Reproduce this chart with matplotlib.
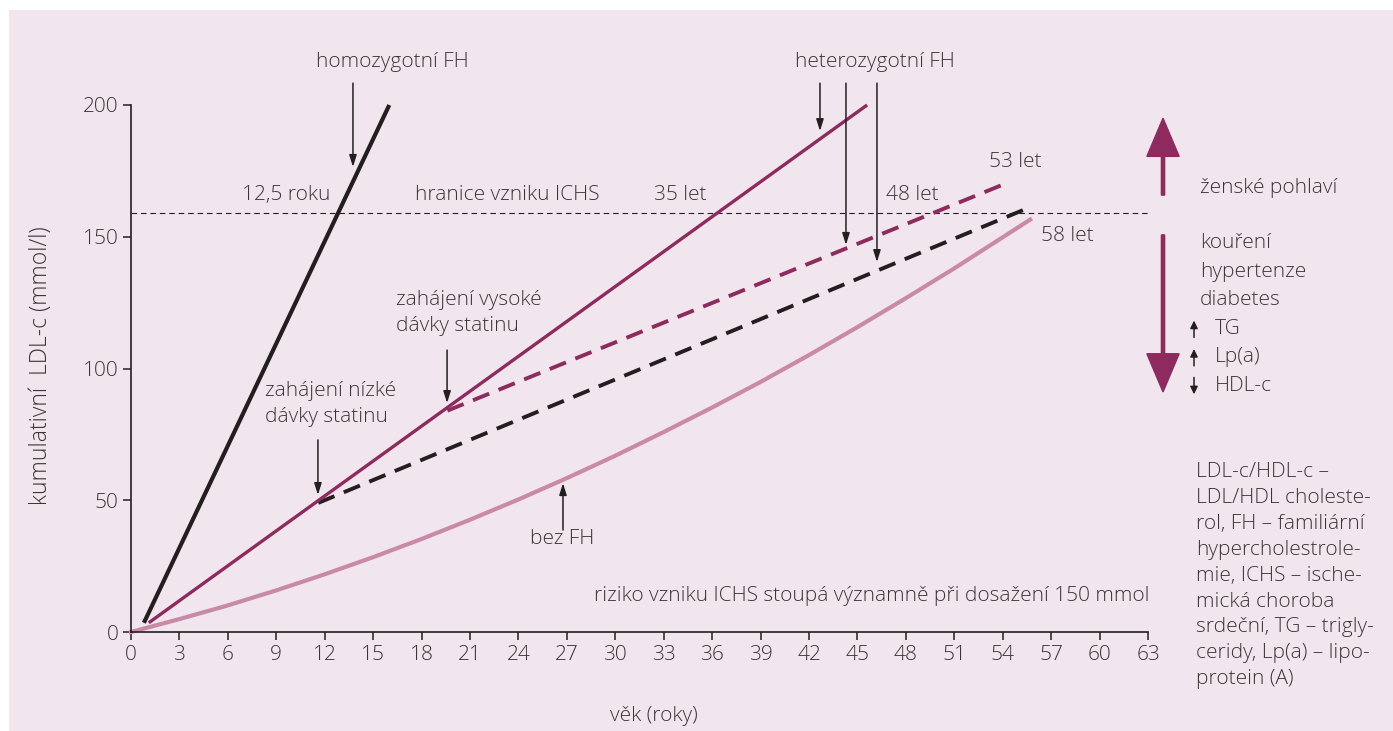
import matplotlib

matplotlib.use("Agg")
import matplotlib.pyplot as plt
from matplotlib.patches import Rectangle, FancyArrow

plt.rcParams["font.family"] = ["Open Sans", "DejaVu Sans"]
plt.rcParams["font.weight"] = "light"
plt.rcParams["axes.labelweight"] = "light"

TEXT = "#3b3536"
DARK = "#231f20"
MAGENTA = "#8e2a5e"
PINK = "#c98aa8"
PANEL = "#f2e6ee"

# homozygous FH (no statin)
homo_age = [0.8, 16.0]
homo_ldl = [3.5, 200.0]

# heterozygous FH (no statin)
hetero_age = [1.1, 45.6]
hetero_ldl = [3.5, 200.0]

# heterozygous FH, low dose statin from ~11.5 years
low_age = [11.6, 55.8]
low_ldl = [49.0, 161.5]

# heterozygous FH, high dose statin from ~19.5 years
high_age = [19.6, 54.3]
high_ldl = [84.0, 170.5]

# without FH
nofh_age = [0, 3, 6, 9, 12, 15, 18, 21, 24, 27, 30, 33, 36, 39, 42, 45, 48, 51, 54, 55.7]
nofh_ldl = [0, 4.9, 10.1, 15.8, 21.9, 28.4, 35.3, 42.6, 50.3, 58.4, 66.9, 75.9, 85.2,
            94.9, 105.1, 115.7, 126.7, 138.0, 149.8, 156.5]

threshold = 159
x_ticks = list(range(0, 64, 3))
y_ticks = [0, 50, 100, 150, 200]

risk_up = ["ženské pohlaví"]
risk_down = ["kouření", "hypertenze", "diabetes"]
risk_small = [("TG", "up"), ("Lp(a)", "up"), ("HDL-c", "down")]

footnote = [
    "LDL-c/HDL-c –",
    "LDL/HDL choleste-",
    "rol, FH – familiární",
    "hypercholestrole-",
    "mie, ICHS – ische-",
    "mická choroba",
    "srdeční, TG – trigly-",
    "ceridy, Lp(a) – lipo-",
    "protein (A)",
]

W, H = 1393, 731
fig = plt.figure(figsize=(W / 100, H / 100), dpi=100)
fig.patch.set_facecolor("white")
fig.patches.append(Rectangle((9 / W, 0), 1, (H - 10) / H, transform=fig.transFigure,
                             facecolor=PANEL, edgecolor="none", zorder=-10))

ax = fig.add_axes([131 / W, (H - 632) / H, (1148 - 131) / W, (632 - 105) / H])
ax.set_facecolor("none")
ax.set_xlim(0, 63)
ax.set_ylim(0, 200)
for side in ("top", "right"):
    ax.spines[side].set_visible(False)
for side in ("left", "bottom"):
    ax.spines[side].set_color(DARK)
    ax.spines[side].set_linewidth(1.2)
ax.spines["left"].set_bounds(0, 200)
ax.spines["bottom"].set_bounds(0, 63)
ax.set_xticks(x_ticks)
ax.set_yticks(y_ticks)
ax.tick_params(direction="out", length=6, width=1.1, color=DARK, labelcolor=TEXT,
               labelsize=15, pad=3)

ax.set_xlabel("věk (roky)", fontsize=15, color=TEXT, fontweight="light")
ax.xaxis.set_label_coords(0.514, -0.14)
ax.set_ylabel("kumulativní  LDL-c (mmol/l)", fontsize=16.5, color=TEXT, fontweight="light")
ax.yaxis.set_label_coords(-0.077, 0.505)

# threshold
ax.plot([0, 63], [threshold, threshold], color=DARK, lw=0.8, dashes=(5, 3.5), clip_on=False)

# lines
ax.plot(nofh_age, nofh_ldl, color=PINK, lw=3, solid_joinstyle="round", clip_on=False)
ax.plot(low_age, low_ldl, color=DARK, lw=2.8, dashes=(4.5, 2.6), clip_on=False)
ax.plot(high_age, high_ldl, color=MAGENTA, lw=2.8, dashes=(4.5, 2.6), clip_on=False)
ax.plot(hetero_age, hetero_ldl, color=MAGENTA, lw=2.4, solid_capstyle="butt", clip_on=False)
ax.plot(homo_age, homo_ldl, color=DARK, lw=3, solid_capstyle="butt", clip_on=False)

fs = 15


def note(x, y, s, ha="center", va="center", **kw):
    ax.text(x, y, s, ha=ha, va=va, fontsize=fs, color=TEXT, clip_on=False, **kw)


def pointer(x, y0, y1, head=0.7):
    ax.annotate("", xy=(x, y1), xytext=(x, y0), annotation_clip=False,
                arrowprops=dict(arrowstyle=f"-|>,head_length={head},head_width=0.22",
                                color=DARK, lw=1.1, shrinkA=0, shrinkB=0))


note(16.17, 216.3, "homozygotní FH")
pointer(13.75, 208.3, 176.5)
note(46.09, 216.3, "heterozygotní FH")
pointer(42.68, 208.3, 190.1)
pointer(44.29, 208.3, 146.9)
pointer(46.21, 208.3, 140.4)

note(9.6, 166.0, "12,5 roku")
note(23.3, 166.0, "hranice vzniku ICHS")
note(34.0, 166.0, "35 let")
note(48.4, 166.0, "48 let")
note(54.8, 178.4, "53 let")
note(58.0, 150.3, "58 let")

note(16.4, 121.1, "zahájení vysoké\ndávky statinu", ha="left", linespacing=1.45)
pointer(19.58, 107.0, 86.9)
note(8.3, 86.5, "zahájení nízké\ndávky statinu", ha="left", linespacing=1.45)
pointer(11.58, 72.9, 52.0)

note(26.7, 35.3, "bez FH")
pointer(26.76, 38.7, 56.5)

note(63.1, 13.7, "riziko vzniku ICHS stoupá významně při dosažení 150 mmol", ha="right")

# risk factor arrows on the right
big_x = 63.93
ax.add_patch(FancyArrow(big_x, 165.8, 0, 29.2, width=0.2, head_width=2.0, head_length=14.5,
                        length_includes_head=True, color=MAGENTA, clip_on=False))
ax.add_patch(FancyArrow(big_x, 150.7, 0, -59.6, width=0.2, head_width=2.0, head_length=14.5,
                        length_includes_head=True, color=MAGENTA, clip_on=False))

note(66.2, 168.5, risk_up[0], ha="left")
for i, label in enumerate(risk_down):
    note(66.2, 147.6 - i * 10.8, label, ha="left")
for i, (label, direction) in enumerate(risk_small):
    y = 115.0 - i * 10.8
    note(67.15, y, label, ha="left")
    if direction == "up":
        pointer(65.85, y - 3.2, y + 3.2, head=0.45)
    else:
        pointer(65.85, y + 3.2, y - 3.2, head=0.45)

note(65.97, 62.2 + 2.2, "\n".join(footnote), ha="left", va="top", linespacing=1.39)

fig.savefig("out.png", dpi=100, facecolor=fig.get_facecolor())
